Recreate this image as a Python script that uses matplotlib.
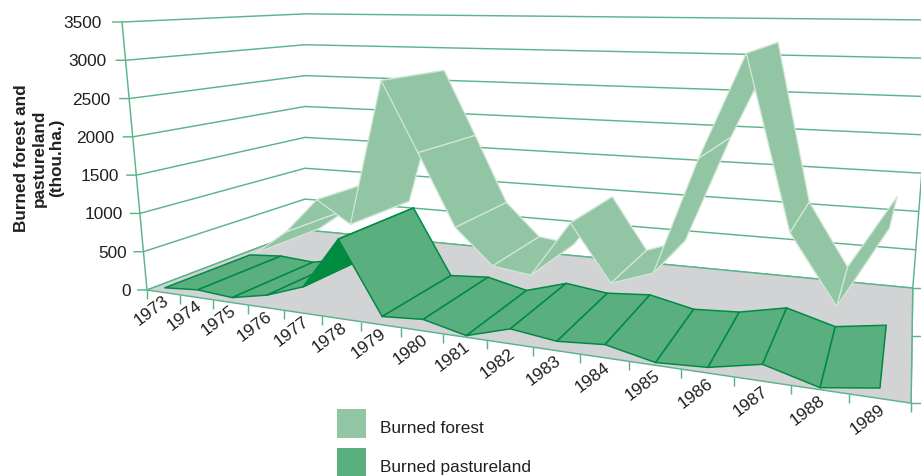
import numpy as np
import matplotlib
matplotlib.use("Agg")
import matplotlib.pyplot as plt
from matplotlib.patches import Patch

plt.rcParams["font.family"] = ["Liberation Sans", "DejaVu Sans"]

# Burned area by year, thousand hectares
years = [1973, 1974, 1975, 1976, 1977, 1978, 1979, 1980, 1981, 1982, 1983,
         1984, 1985, 1986, 1987, 1988, 1989]
burned_forest = [45, 400, 905, 600, 2640, 1670, 695, 230, 165, 895, 175,
                 360, 1840, 3160, 1020, 195, 1175]
burned_pastureland = [50, 85, 50, 145, 310, 945, 85, 120, 5, 155, 90,
                      130, 15, 45, 160, 5, 90]
value_ticks = [0, 500, 1000, 1500, 2000, 2500, 3000, 3500]

FOREST_FILL, FOREST_EDGE = "#92C5A3", "#D3E7D9"
PASTURE_FILL, PASTURE_EDGE = "#5AAF7F", "#008A45"
UNDERSIDE_FILL = "#008C3E"
GRID_COLOR = "#5DB48A"
FLOOR_COLOR = "#D1D3D4"
TEXT_COLOR = "#231F20"

# Floor corners on the canvas: front-left, front-right, back-right, back-left
FLOOR = [(147, 290), (910, 403), (912, 288), (305, 230)]
ZMAX = 3500.0


def floor_homography(pts):
    (x0, y0), (x1, y1), (x2, y2), (x3, y3) = pts
    dx1, dy1 = x1 - x2, y1 - y2
    dx2, dy2 = x3 - x2, y3 - y2
    sx, sy = x0 - x1 + x2 - x3, y0 - y1 + y2 - y3
    d = dx1 * dy2 - dy1 * dx2
    g = (sx * dy2 - sy * dx2) / d
    h = (dx1 * sy - dy1 * sx) / d
    return np.array([[x1 - x0 + g * x1, x3 - x0 + h * x3, x0],
                     [y1 - y0 + g * y1, y3 - y0 + h * y3, y0],
                     [g, h, 1.0]])


H = floor_homography(FLOOR)
N = len(years)


def project(x, depth, value):
    """Perspective view of (year position, depth 0-1, value) onto the canvas."""
    t = x / N
    u = 1.095 * t / (1 + 0.094 * t)
    p = H @ np.array([u, depth, 1.0])
    lift = value / ZMAX
    return (p[0] / p[2] + lift * (-25 + 21 * u + 25 * depth),
            p[1] / p[2] - lift * 268 / (1 - 0.24 * u + 0.24 * depth))


fig = plt.figure(figsize=(9.21, 4.76), dpi=100)
ax = fig.add_axes([0, 0, 1, 1])
ax.set_xlim(0, 921)
ax.set_ylim(476, 0)
ax.axis("off")


def polyline(points, **kw):
    xs, ys = zip(*points)
    ax.plot(xs, ys, color=GRID_COLOR, lw=1.05, solid_capstyle="butt", **kw)


# Walls: one line per value level along the left and back walls, with a tick
for level in value_ticks:
    front = project(0, 0, level)
    polyline([(front[0] - 10, front[1]), front, project(0, 1, level),
              project(N, 1, level)], zorder=1)
    ax.text(front[0] - 16 - 4 * level / ZMAX, front[1] + 1.5, f"{level}",
            ha="right", va="center", fontsize=12.4, color=TEXT_COLOR)
polyline([project(0, 0, 0), project(0, 0, ZMAX)], zorder=1)
polyline([project(N, 0, 0), project(N, 1, 0), project(N, 1, ZMAX)], zorder=1)

# Floor plane and its outline
floor = [project(0, 0, 0), project(N, 0, 0), project(N, 1, 0), project(0, 1, 0)]
ax.fill(*zip(*floor), color=FLOOR_COLOR, lw=0, zorder=2)
polyline(floor + floor[:1], zorder=3)

# Year ticks under the front edge, labels centred on each bin
for i in range(N + 1):
    fx, fy = project(i, 0, 0)
    polyline([(fx, fy), (fx, fy + 9)], zorder=3)
for i, year in enumerate(years):
    fx, fy = project(i + 0.5, 0, 0)
    ax.text(fx - 12, fy + 18 + 3 * i / N, str(year), rotation=37, ha="center",
            va="center", rotation_mode="anchor", fontsize=12.6, color=TEXT_COLOR)

# Depth ticks on the right-hand edge
for depth in (0, 0.5, 1):
    rx, ry = project(N, depth, 0)
    polyline([(rx, ry), (rx + 10, ry)], zorder=3)


def ribbon(values, d0, d1, fill, edge, lw, zorder, rising_fill=None):
    """Draw a band of panels between neighbouring years, left to right."""
    for i in range(len(values) - 1):
        a, b = values[i], values[i + 1]
        quad = [project(i + 0.5, d0, a), project(i + 1.5, d0, b),
                project(i + 1.5, d1, b), project(i + 0.5, d1, a)]
        color = fill
        if rising_fill and b - a > 500:
            color = rising_fill
        ax.fill(*zip(*quad), facecolor=color, edgecolor=edge, lw=lw,
                joinstyle="round", zorder=zorder + i * 0.01)


ribbon(burned_forest, 0.54, 1.0, FOREST_FILL, FOREST_EDGE, 0.9, 4)
ribbon(burned_pastureland, 0.01, 0.5, PASTURE_FILL, PASTURE_EDGE, 1.1, 5,
       rising_fill=UNDERSIDE_FILL)

# Multi-line axis title
ax.text(39, 158, "Burned forest and\npastureland\n(thou.ha.)", rotation=90,
        ha="center", va="center", multialignment="center", fontsize=12.3,
        fontweight="bold", linespacing=1.2, color=TEXT_COLOR)

handles = [Patch(facecolor=FOREST_FILL, label="Burned forest"),
           Patch(facecolor=PASTURE_FILL, label="Burned pastureland")]
legend = ax.legend(handles=handles, loc="upper left",
                   bbox_to_anchor=(337 / 921, 1 - 409 / 476), frameon=False,
                   fontsize=12.4, handlelength=1.69, handleheight=2.22,
                   handletextpad=0.8, labelspacing=0.6, borderpad=0,
                   borderaxespad=0, labelcolor=TEXT_COLOR)
for label in legend.get_texts():
    label.set_y(-4)

fig.savefig("out.png", dpi=100)
